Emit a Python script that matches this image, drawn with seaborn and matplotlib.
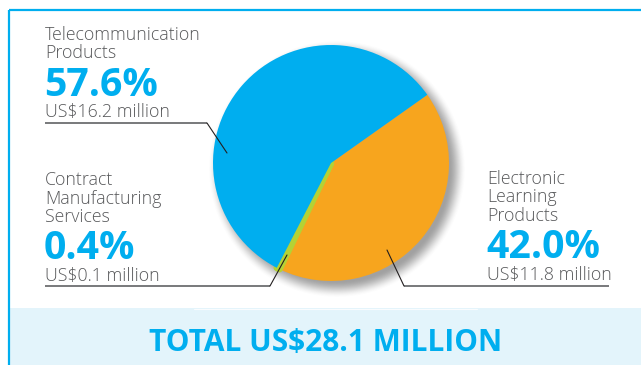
import numpy as np
import matplotlib
matplotlib.use("Agg")
import matplotlib.pyplot as plt
import seaborn as sns

# Revenue breakdown by business segment
segments = ["Electronic\nLearning\nProducts",
            "Contract\nManufacturing\nServices",
            "Telecommunication\nProducts"]
shares = [42.0, 0.4, 57.6]          # percent of total revenue
revenue_musd = [11.8, 0.1, 16.2]    # US$ million
total_musd = 28.1

sns.set_theme(style="white")
plt.rcParams["font.family"] = ["Open Sans", "DejaVu Sans"]

BLUE = "#00AEEF"
ORANGE = "#F7A51E"
GREEN = "#B4D235"
BANNER = "#E3F4FB"
GREY = "#58595B"
colors = sns.color_palette([ORANGE, GREEN, BLUE])

W, H = 641, 365
fig = plt.figure(figsize=(W / 100, H / 100), dpi=100)

# Background layer in pixel coordinates
bg = fig.add_axes([0, 0, 1, 1], zorder=0)
bg.set_xlim(0, W)
bg.set_ylim(H, 0)
bg.axis("off")

bg.add_patch(plt.Rectangle((9, 308), W - 9, H - 308, color=BANNER, lw=0))
bg.plot([194, 477], [308.6, 308.6], color="white", lw=0.8, alpha=0.8)
bg.plot([8.5, W], [10, 10], color=BLUE, lw=1.6, solid_capstyle="butt")
bg.plot([8.5, 8.5], [10, H], color=BLUE, lw=1.6, solid_capstyle="butt")

# Soft drop shadow behind the pie
cx, cy, R = 331, 163, 118
sx, sy = cx + 6, cy + 6
gx = np.arange(sx - R - 30, sx + R + 30)
gy = np.arange(sy - R - 30, sy + R + 30)
XX, YY = np.meshgrid(gx + 0.5, gy + 0.5)
d = np.hypot(XX - sx, YY - sy)
t = np.clip((R + 11 - d) / 17, 0, 1)
alpha = 0.55 * t * t * (3 - 2 * t)
img = np.zeros(d.shape + (4,))
img[..., :3] = 0.33
img[..., 3] = alpha
bg.imshow(img, extent=(gx[0], gx[-1] + 1, gy[-1] + 1, gy[0]),
          interpolation="bilinear", zorder=1)
bg.set_xlim(0, W)
bg.set_ylim(H, 0)

# Pie
pie_ax = fig.add_axes([(cx - R) / W, 1 - (cy + R) / H, 2 * R / W, 2 * R / H], zorder=1)
wedges, _ = pie_ax.pie(shares, colors=colors, startangle=35.3, counterclock=False,
                       wedgeprops=dict(linewidth=0))
wedges[1].set_edgecolor(GREEN)
wedges[1].set_linewidth(4.8)
wedges[1].set_joinstyle("round")
pie_ax.set_xlim(-1, 1)
pie_ax.set_ylim(-1, 1)
pie_ax.set_aspect("equal")
pie_ax.axis("off")

# Labels and leader lines
ov = fig.add_axes([0, 0, 1, 1], zorder=2)
ov.patch.set_alpha(0)
ov.set_xlim(0, W)
ov.set_ylim(H, 0)
ov.axis("off")

label_fs = 12.8
pct_fs = 28.3
line_h = 18.5


def block(x, first_baseline, name, pct, musd):
    lines = name.split("\n")
    for i, ln in enumerate(lines):
        ov.text(x, first_baseline + i * line_h, ln, fontsize=label_fs,
                color=GREY, va="baseline", ha="left", fontweight="light")
    yb = first_baseline + (len(lines) - 1) * line_h
    ov.text(x - 1, yb + 37, f"{pct:.1f}%", fontsize=pct_fs, color=BLUE,
            va="baseline", ha="left", fontweight="bold")
    ov.text(x, yb + 59, f"US${musd:g} million", fontsize=label_fs,
            color=GREY, va="baseline", ha="left", fontweight="light")


block(45, 40, segments[2], shares[2], revenue_musd[2])
block(45, 185, segments[1], shares[1], revenue_musd[1])
block(487, 184, segments[0], shares[0], revenue_musd[0])

uline = dict(color="#6D6E71", lw=1.3, solid_capstyle="butt")
lead = dict(color="#231F20", lw=0.8)
ov.plot([45, 207], [123, 123], **uline)
ov.plot([207, 227], [123, 153], **lead)
ov.plot([45, 270], [286, 286], **uline)
ov.plot([270, 287], [286, 255], **lead)
ov.plot([404, 609], [286, 286], **uline)
ov.plot([387, 404], [250, 286], **lead)

ov.text(326, 351, f"TOTAL US${total_musd:g} MILLION", fontsize=21.5, color=BLUE,
        va="baseline", ha="center", fontweight="bold")

fig.savefig("out.png", dpi=100)
